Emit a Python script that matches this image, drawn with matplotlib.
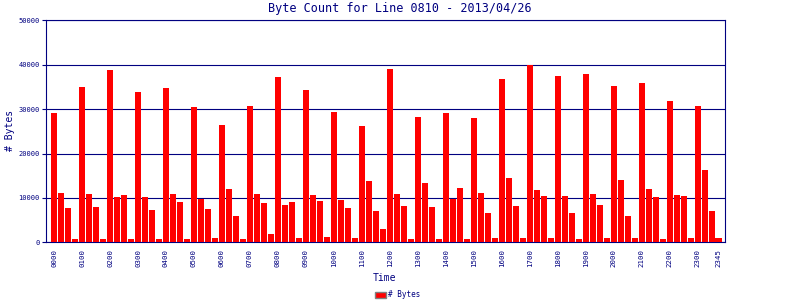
import numpy as np
import matplotlib.pyplot as plt
from matplotlib.patches import Patch

# byte counts, one per 15 minute slot
byte_count = [
    29100, 11100, 7700, 750,   34900, 10900, 7950, 750,
    38750, 10200, 10650, 750,  33800, 10200, 7270, 750,
    34700, 10900, 9070, 750,   30430, 9750, 7500, 975,
    26390, 12000, 5920, 750,   30660, 10900, 8850, 1870,
    37180, 8400, 9070, 975,    34260, 10650, 9300, 1200,
    29310, 9520, 7700, 975,    26160, 13790, 7050, 3000,
    38980, 10900, 8170, 750,   28190, 13340, 7950, 750,
    29100, 9750, 12220, 750,   27960, 11100, 6600, 975,
    36730, 14470, 8170, 975,   39880, 11770, 10420, 975,
    37410, 10420, 6600, 750,   37860, 10900, 8400, 975,
    35160, 14020, 5920, 975,   35830, 12000, 10200, 750,
    31780, 10650, 10420, 975,  30660, 16270, 7050, 975,
]
slots = ["%02d%02d" % (h, m) for h in range(24) for m in (0, 15, 30, 45)]
tick_labels = ["%02d00" % h for h in range(24)] + ["2345"]
y_ticks = [0, 10000, 20000, 30000, 40000, 50000]

navy = "#000080"
mono = "DejaVu Sans Mono"

fig = plt.figure(figsize=(8, 3), dpi=100)
ax = fig.add_axes([0.058, 0.192, 0.848, 0.740])

x = np.arange(len(byte_count))
ax.bar(x, byte_count, width=0.86, color="#ff0000", zorder=3)

ax.set_xlim(-1.1, 95.9)
ax.set_ylim(0, 50000)
ax.set_yticks(y_ticks)
ax.set_yticklabels([str(v) for v in y_ticks], fontsize=5, family=mono, color=navy)
ax.yaxis.grid(True, color=navy, linewidth=0.8, zorder=1)
ax.set_axisbelow(True)

ax.set_xticks([slots.index(t) for t in tick_labels])
ax.set_xticklabels(tick_labels, rotation=90, fontsize=5.3, family=mono, color=navy)
ax.tick_params(axis="x", length=0, pad=5)
ax.tick_params(axis="y", length=3, width=0.8, color=navy, pad=2)

for s in ax.spines.values():
    s.set_color(navy)
    s.set_linewidth(0.8)

fig.text(0.5, 0.972, "Byte Count for Line 0810 - 2013/04/26", ha="center", va="center",
         fontsize=8.5, family=mono, color=navy)
fig.text(0.48, 0.073, "Time", ha="center", va="center", fontsize=7, family=mono, color=navy)
fig.text(0.012, 0.565, "# Bytes", ha="center", va="center", rotation=90,
         fontsize=7, family=mono, color=navy)

fig.legend(handles=[Patch(facecolor="#ff0000", edgecolor="grey", label="# Bytes")],
           loc="center", bbox_to_anchor=(0.497, 0.017), frameon=False,
           prop={"family": mono, "size": 5.5}, labelcolor=navy,
           handlelength=1.4, handleheight=0.9, handletextpad=0.3)

fig.savefig("out.png", dpi=100)
